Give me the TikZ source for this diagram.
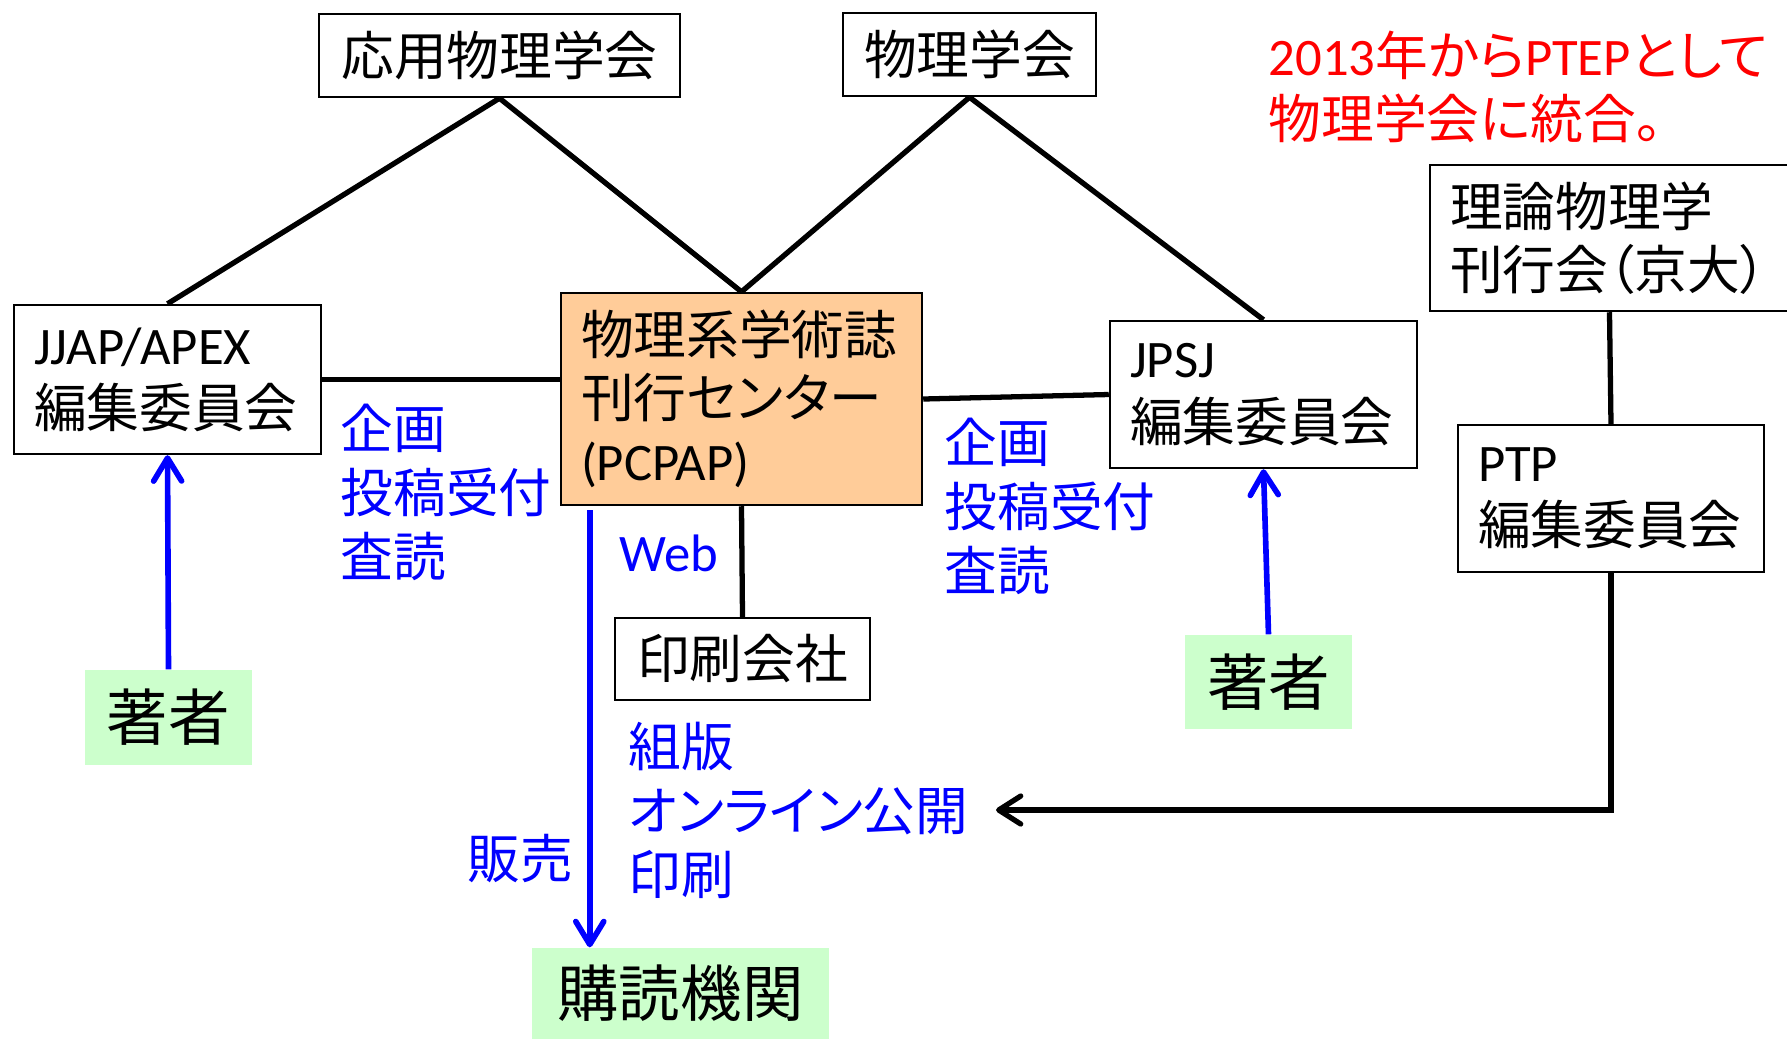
\documentclass[tikz,border=0pt]{standalone}
\usepackage{fontspec}
\setmainfont{Noto Sans CJK JP}[RawFeature=+palt]
\newfontfamily\enfont{Carlito}
\usetikzlibrary{positioning, arrows.meta}

\definecolor{pcpaporange}{RGB}{255,204,153}
\definecolor{readergreen}{RGB}{204,255,204}

\begin{document}
\begin{tikzpicture}[
    x=0.1mm, y=-0.1mm, % one unit is one pixel of the reference, y going down
    font=\fontsize{15}{18}\selectfont,
    % Styles for the boxes and lines
    box/.style={rectangle, draw, line width=0.7pt, align=left, inner xsep=2mm, inner ysep=0pt},
    greenbox/.style={ % Style for the green boxes without border
        rectangle,
        fill=readergreen,
        inner sep=0pt,
        font=\fontsize{17.5}{21}\selectfont
    },
    line/.style={draw, line width=1.5pt},
    bluearrow/.style={
        draw=blue,
        line width=1.6pt,
        -{Straight Barb[length=2.3mm,width=2.8mm,round]}
    },
    bluelabel/.style={text=blue, anchor=west, inner sep=0pt, align=left, font=\fontsize{15}{18.2}\selectfont}
]

\useasboundingbox (0,0) rectangle (1787,1040);

% Societies at the top
\node [box, align=center, text width=32.1mm, minimum height=8.3mm] (oyo) at (499.5,55.5) {応用物理学会};
\node [box, align=center, text width=21.3mm, minimum height=8.3mm] (jps) at (969.5,54.5) {物理学会};

% Editorial boards and the centre
\node [box, text width=26.7mm, minimum height=14.9mm] (jjap) at (167.5,379.5) {{\enfont JJAP/APEX}\\編集委員会};
\node [box, fill=pcpaporange, text width=32.1mm, minimum height=21.2mm] (pcpap) at (741.5,399) {物理系学術誌\\刊行センター\\{\enfont (PCPAP)}};
\node [box, text width=26.7mm, minimum height=14.7mm] (jpsj) at (1263.5,394.5) {{\enfont JPSJ}\\編集委員会};
\node [box, text width=31.9mm, minimum height=14.6mm] (theory) at (1609.5,238) {理論物理学\\刊行会（京大）};
\node [box, text width=26.6mm, minimum height=14.7mm] (ptp) at (1611,498.5) {{\enfont PTP}\\編集委員会};
\node [box, align=center, text width=21.5mm, minimum height=8.2mm] (printer) at (742.5,659) {印刷会社};

% Authors and subscribers
\node [greenbox, minimum width=16.7mm, minimum height=9.5mm] (authorL) at (168.5,717.5) {著者};
\node [greenbox, minimum width=16.7mm, minimum height=9.4mm] (authorR) at (1268.5,682) {著者};
\node [greenbox, minimum width=29.7mm, minimum height=9.1mm] (subscriber) at (680.5,993.5) {購読機関};

% Blue labels
\node [bluelabel] (planL) at (340,492) {企画\\投稿受付\\査読};
\node [bluelabel] (planR) at (944,506) {企画\\投稿受付\\査読};
\node [bluelabel] (web) at (619,553) {{\enfont Web}};
\node [bluelabel] (pub) at (628,810) {組版\\オンライン公開\\印刷};
\node [bluelabel] (sale) at (467,859) {販売};

% Red note
\node [anchor=west, inner sep=0pt, align=left, text=red] (note) at (1268,87) {{\enfont 2013}年から{\enfont PTEP}として\\物理学会に統合。};

% Black connections
\draw [line] (oyo.south) -- (jjap.north);
\draw [line] (oyo.south) -- (pcpap.north);
\draw [line] (jps.south) -- (pcpap.north);
\draw [line] (jps.south) -- (jpsj.north);
\draw [line] (jjap.east) -- (jjap.east -| pcpap.west);
\draw [line] (pcpap.east) -- (jpsj.west);
\draw [line] (pcpap.south) -- (printer.north);
\draw [line] (theory.south) -- (ptp.north);
\draw [line, -{Straight Barb[length=2.2mm,width=2.8mm,round]}, shorten >=2.7mm] (ptp.south) |- (pub.east);

% Blue arrows
\draw [bluearrow] (authorL.north) -- (jjap.south);
\draw [bluearrow] (authorR.north) -- (jpsj.south);
\draw [bluearrow, shorten <=0.4mm] ([xshift=3mm]pcpap.south west) -- ([xshift=3mm]pcpap.south west |- subscriber.north);

\end{tikzpicture}
\end{document}
